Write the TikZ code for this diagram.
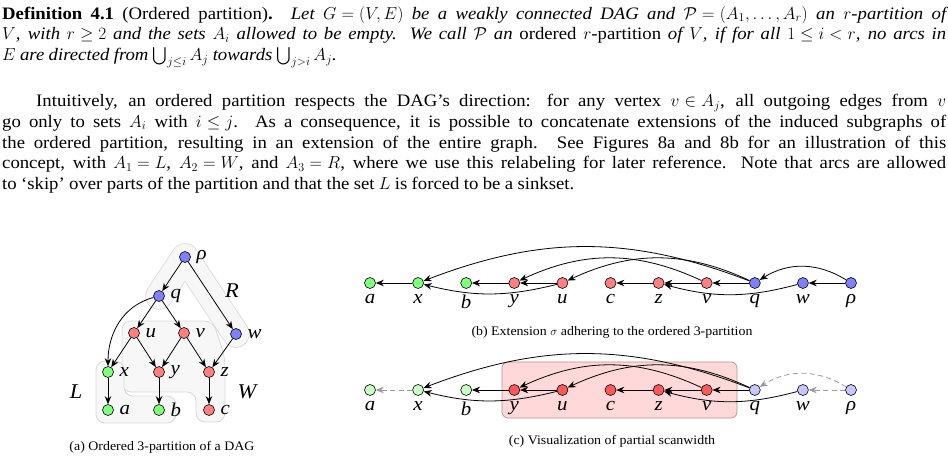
\documentclass[tikz,border=0pt]{standalone}
\usepackage{amsmath,amssymb}
\usepackage{fontspec}
\setmainfont{Liberation Serif}[FakeStretch=1.07]
\usetikzlibrary{positioning,backgrounds,arrows.meta}
\tikzset{
  vtx/.style={draw,circle,inner sep=0pt,minimum size=11pt,line width=0.6pt},
  gvtx/.style={vtx,fill=green!50}, rvtx/.style={vtx,fill=red!50}, bvtx/.style={vtx,fill=blue!50},
  lgvtx/.style={vtx,fill=green!22}, lbvtx/.style={vtx,fill=blue!22}, dvtx/.style={vtx,fill=red!65},
  lbl/.style={font=\fontsize{19.5}{22}\selectfont\itshape,inner sep=2pt,label distance=3.5pt},
  arc/.style={->,line width=0.8pt},
  farc/.style={arc,gray!80,dash pattern=on 5pt off 3.5pt},
  txt/.style={text width=944pt,align=justify,inner sep=0pt,font=\fontsize{17.5}{20.8}\selectfont},
  capt/.style={font=\fontsize{13}{15}\selectfont},
  part/.style={font=\fontsize{21}{24}\selectfont\itshape},
  blob/.style={fill=gray!6,draw=gray!30,line width=0.8pt,rounded corners=9pt},
}
\newcommand{\tightmath}{\spaceskip=0.25em plus 0.3em minus 0.1em
  \thickmuskip=5mu plus 0.5mu\medmuskip=4mu plus 0.5mu minus 2mu}
\begin{document}
\begin{tikzpicture}[x=1pt,y=-1pt,>={Stealth[length=8pt,width=6.5pt]}]
\useasboundingbox (0,0) rectangle (948,462);
% text
\node[txt,anchor=north west] (defn) at (2,6) {\tightmath
\textbf{Definition 4.1} (Ordered partition)\textbf{.} \textit{Let $G=(V,E)$ be a weakly connected DAG and $\mathcal{P}=(A_1,\dots,A_r)$ an $r$-partition of\linebreak $V$, with $r\geq 2$ and the sets $A_i$ allowed to be empty. We call $\mathcal{P}$ an} ordered $r$-partition \textit{of $V$, if for all $1\leq i<r$, no arcs in\linebreak $E$ are directed from $\bigcup_{j\leq i}A_j$ towards $\bigcup_{j>i}A_j$.}};
\node[txt,anchor=north west] (para) at (2,94) {\tightmath
\hspace*{34pt}Intuitively, an ordered partition respects the DAG’s direction: for any vertex $v\in A_j$, all outgoing edges from $v$\linebreak go only to sets $A_i$ with $i\leq j$. As a consequence, it is possible to concatenate extensions of the induced subgraphs of\linebreak the ordered partition, resulting in an extension of the entire graph. See Figures 8a and 8b for an illustration of this\linebreak concept, with $A_1=L$, $A_2=W$, and $A_3=R$, where we use this relabeling for later reference. Note that arcs are allowed\linebreak to ‘skip’ over parts of the partition and that the set $L$ is forced to be a sinkset.};

% (a) the DAG
\node[bvtx,label={[lbl]right:ρ}] (grho) at (185,257) {};
\node[bvtx,label={[lbl]right:q}] (gq) at (159,296) {};
\node[rvtx,label={[lbl]right:u}] (gu) at (134,333) {};
\node[rvtx,label={[lbl]right:v}] (gv) at (184,333) {};
\node[bvtx,label={[lbl]right:w}] (gw) at (236,334) {};
\node[gvtx,label={[lbl]right:x}] (gx) at (108,372) {};
\node[rvtx,label={[lbl]right:y}] (gy) at (159,372) {};
\node[rvtx,label={[lbl]right:z}] (gz) at (209,372) {};
\node[gvtx,label={[lbl]right:a}] (ga) at (108,410) {};
\node[gvtx,label={[lbl]right:b}] (gb) at (159,410) {};
\node[rvtx,label={[lbl]right:c}] (gc) at (209,410) {};
\draw[arc] (grho)--(gq); \draw[arc] (grho)--(gw);
\draw[arc] (gq)--(gu); \draw[arc] (gq)--(gv);
\draw[arc] (gq) to[out=195,in=90] (gx);
\draw[arc] (gu)--(gx); \draw[arc] (gu)--(gy);
\draw[arc] (gv)--(gy); \draw[arc] (gv)--(gz); \draw[arc] (gw)--(gz);
\draw[arc] (gx)--(ga); \draw[arc] (gy)--(gb); \draw[arc] (gz)--(gc);
\begin{pgfonlayer}{background}
\draw[gray!30,line width=27.6pt,line cap=round,line join=round] (gq.center)--(grho.center)--(gw.center);
\draw[gray!6,line width=26pt,line cap=round,line join=round] (gq.center)--(grho.center)--(gw.center);
\draw[blob] (122,321)--(213,321)--(225,358)--(225,422)--(196,422)--(196,392)--(122,392)--cycle;
\draw[blob] (96,361)--(124,361)--(124,396)--(176,396)--(176,423)--(96,423)--cycle;
\end{pgfonlayer}
\node[part] (pL) at (76,392) {L};
\node[part] (pW) at (247,392) {W};
\node[part] (pR) at (232,291) {R};
\node[capt] (capa) at (162,447) {(a) Ordered 3-partition of a DAG};

% (b) extension
\begin{scope}[node distance=48.1pt]
\node[gvtx,label={[lbl]below:a}] (ea) at (370,283) {};
\node[gvtx,right of=ea,label={[lbl]below:x}] (ex) {};
\node[gvtx,right of=ex,label={[lbl]below:b}] (eb) {};
\node[rvtx,right of=eb,label={[lbl]below:y}] (ey) {};
\node[rvtx,right of=ey,label={[lbl]below:u}] (eu) {};
\node[rvtx,right of=eu,label={[lbl]below:c}] (ec) {};
\node[rvtx,right of=ec,label={[lbl]below:z}] (ez) {};
\node[rvtx,right of=ez,label={[lbl]below:v}] (ev) {};
\node[bvtx,right of=ev,label={[lbl]below:q}] (eq) {};
\node[bvtx,right of=eq,label={[lbl]below:w}] (ew) {};
\node[bvtx,right of=ew,label={[lbl]below:ρ}] (erho) {};
\end{scope}
\draw[arc] (ex)--(ea); \draw[arc] (ey)--(eb); \draw[arc] (eu)--(ey);
\draw[arc] (ez)--(ec); \draw[arc] (ev)--(ez); \draw[arc] (eq)--(ev);
\draw[arc] (erho)--(ew);
\draw[arc] (eq) to[bend right=21] (ex);
\draw[arc] (eq) to[bend right=25] (eu);
\draw[arc] (ev) to[bend right=25] (ey);
\draw[arc] (erho) to[bend right=32] (eq);
\draw[arc] (eu) to[bend left=14] (ex);
\draw[arc] (ew) to[bend left=15] (ez);
\node[capt] (capb) at (612,332) {(b) Extension $\sigma$ adhering to the ordered 3-partition};

% (c) partial scanwidth
\begin{scope}[node distance=48.1pt]
\node[lgvtx,label={[lbl]below:a}] (sa) at (370,390) {};
\node[lgvtx,right of=sa,label={[lbl]below:x}] (sx) {};
\node[lgvtx,right of=sx,label={[lbl]below:b}] (sb) {};
\node[dvtx,right of=sb,label={[lbl]below:y}] (sy) {};
\node[dvtx,right of=sy,label={[lbl]below:u}] (su) {};
\node[dvtx,right of=su,label={[lbl]below:c}] (sc) {};
\node[dvtx,right of=sc,label={[lbl]below:z}] (sz) {};
\node[dvtx,right of=sz,label={[lbl]below:v}] (sv) {};
\node[lbvtx,right of=sv,label={[lbl]below:q}] (sq) {};
\node[lbvtx,right of=sq,label={[lbl]below:w}] (sw) {};
\node[lbvtx,right of=sw,label={[lbl]below:ρ}] (srho) {};
\end{scope}
\begin{pgfonlayer}{background}
\draw[fill=red!15,draw=red!25!gray!70,line width=0.7pt,rounded corners=6pt] (502,362) rectangle (737,418);
\end{pgfonlayer}
\draw[farc] (sx)--(sa); \draw[arc] (sy)--(sb); \draw[arc] (su)--(sy);
\draw[arc] (sz)--(sc); \draw[arc] (sv)--(sz); \draw[arc] (sq)--(sv);
\draw[farc] (srho)--(sw);
\draw[arc] (sq) to[bend right=21] (sx);
\draw[arc] (sq) to[bend right=25] (su);
\draw[arc] (sv) to[bend right=25] (sy);
\draw[farc] (srho) to[bend right=32] (sq);
\draw[arc] (su) to[bend left=14] (sx);
\draw[arc] (sw) to[bend left=15] (sz);
\node[capt] (capc) at (612,441) {(c) Visualization of partial scanwidth};
\end{tikzpicture}
\end{document}
